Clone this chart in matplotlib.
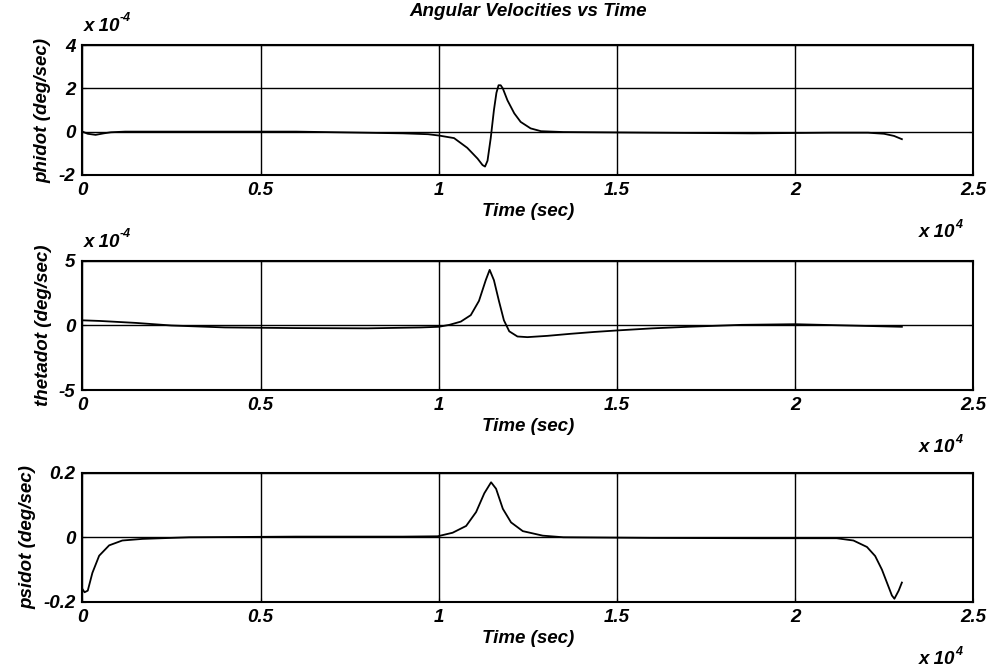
import numpy as np
import matplotlib.pyplot as plt

# --- data ---
# time in seconds, rates in the units shown on each y axis
phi_time = [0, 150, 370, 600, 800, 1200, 1600, 3000, 6000, 7900, 9000, 9700,
            10000, 10430, 10800, 11090, 11230, 11300, 11370, 11460, 11550,
            11620, 11680, 11740, 11800, 11930, 12120, 12300, 12580, 12870,
            13500, 16000, 18800, 21000, 22050, 22500, 22780, 23000]
phidot = [0, -0.1, -0.15, -0.08, -0.03, 0.0, 0.0, 0.0, 0.0, -0.05, -0.08, -0.12,
          -0.18, -0.3, -0.75, -1.25, -1.55, -1.62, -1.35, -0.3, 1.0,
          1.8, 2.15, 2.15, 2.0, 1.45, 0.85, 0.45, 0.15, 0.02,
          -0.02, -0.05, -0.08, -0.05, -0.05, -0.1, -0.2, -0.35]          # x 1e-4

theta_time = [0, 500, 1500, 2500, 4000, 6000, 8000, 9500, 10000, 10300, 10620,
              10900, 11130, 11320, 11430, 11550, 11690, 11830, 11980, 12210,
              12490, 13050, 13710, 14360, 15020, 16000, 17000, 18500, 20000,
              21500, 23000]
thetadot = [0.4, 0.35, 0.2, 0.0, -0.15, -0.2, -0.22, -0.15, -0.1, 0.05, 0.3,
            0.8, 1.9, 3.5, 4.3, 3.5, 1.9, 0.4, -0.45, -0.85,
            -0.9, -0.8, -0.64, -0.5, -0.38, -0.22, -0.1, 0.05, 0.1,
            0.0, -0.1]                                                      # x 1e-4

psi_time = [0, 60, 150, 280, 470, 750, 1120, 1690, 3000, 6000, 9000, 9970,
            10390, 10770, 11050, 11280, 11470, 11610, 11800, 12030, 12360,
            12920, 13500, 16000, 19000, 21170, 21640, 22020, 22250, 22440,
            22580, 22720, 22790, 22910, 23000]
psidot = [-0.16, -0.17, -0.165, -0.11, -0.057, -0.025, -0.01, -0.005, 0.0, 0.002,
          0.002, 0.003, 0.014, 0.035, 0.078, 0.136, 0.17, 0.15, 0.088, 0.046,
          0.019, 0.005, 0.0, -0.002, -0.003, -0.003, -0.01, -0.03, -0.058,
          -0.1, -0.14, -0.18, -0.19, -0.165, -0.14]

x_ticks = [0, 0.5, 1, 1.5, 2, 2.5]
x_ticklabels = ["0", "0.5", "1", "1.5", "2", "2.5"]

panels = [
    (phi_time, phidot, "phidot (deg/sec)", [-2, 0, 2, 4], ["-2", "0", "2", "4"], (-2, 4), True),
    (theta_time, thetadot, "thetadot (deg/sec)", [-5, 0, 5], ["-5", "0", "5"], (-5, 5), True),
    (psi_time, psidot, "psidot (deg/sec)", [-0.2, 0, 0.2], ["-0.2", "0", "0.2"], (-0.2, 0.2), False),
]
bottoms = [0.738, 0.415, 0.0975]

plt.rcParams['font.family'] = ['Liberation Sans', 'DejaVu Sans']
FONT = dict(fontweight="bold", fontstyle="italic")
FS = 13.5

fig = plt.figure(figsize=(9.93, 6.67), dpi=100)

for i, (t, v, ylab, yt, ytl, ylim, sci) in enumerate(panels):
    ax = fig.add_axes([0.083, bottoms[i], 0.897, 0.194])
    ax.plot(np.array(t) / 1e4, v, color="black", linewidth=1.3)
    ax.set_xlim(0, 2.5)
    ax.set_ylim(*ylim)
    ax.set_xticks(x_ticks)
    ax.set_xticklabels(x_ticklabels, fontsize=FS, **FONT)
    ax.set_yticks(yt)
    ax.set_yticklabels(ytl, fontsize=FS, **FONT)
    ax.tick_params(direction="in", length=3, pad=5, top=True, right=True)
    ax.grid(True, color="black", linewidth=1.0, linestyle="-")
    for s in ax.spines.values():
        s.set_linewidth(1.5)
    ax.set_ylabel(ylab, fontsize=FS, labelpad=5, **FONT)
    ax.set_xlabel("Time (sec)", fontsize=FS, labelpad=3, **FONT)

    # x 10^4 under the right end
    ax.annotate("x 10", xy=(1, 0), xycoords="axes fraction", xytext=(-54, -62),
                textcoords="offset pixels", fontsize=FS, ha="left", va="baseline", **FONT)
    ax.annotate("4", xy=(1, 0), xycoords="axes fraction", xytext=(-18, -53),
                textcoords="offset pixels", fontsize=9, ha="left", va="baseline", **FONT)
    if sci:
        ax.annotate("x 10", xy=(0, 1), xycoords="axes fraction", xytext=(1, 14),
                    textcoords="offset pixels", fontsize=FS, ha="left", va="baseline", **FONT)
        ax.annotate("-4", xy=(0, 1), xycoords="axes fraction", xytext=(37, 24),
                    textcoords="offset pixels", fontsize=9, ha="left", va="baseline", **FONT)
    if i == 0:
        ax.set_title("Angular Velocities vs Time", fontsize=FS, pad=21, **FONT)

fig.savefig("out.png", dpi=100, facecolor="white")
